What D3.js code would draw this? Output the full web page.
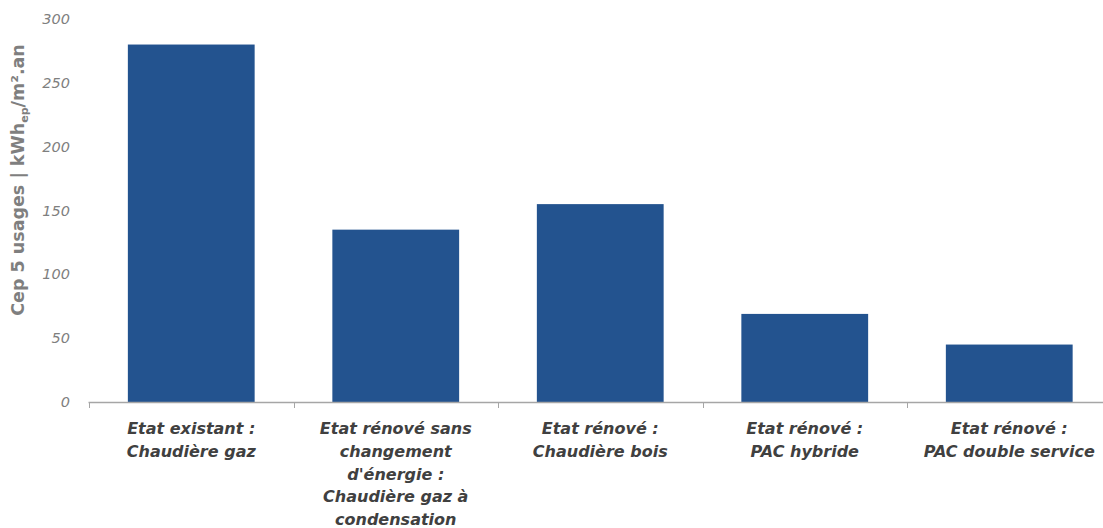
<!DOCTYPE html>
<html>
<head>
<meta charset="utf-8">
<script src="https://cdn.jsdelivr.net/npm/d3@7"></script>
<style>
  html, body { margin: 0; padding: 0; background: #fff; }
  svg { display: block; }
</style>
</head>
<body>
<svg id="chart" width="1103" height="528"></svg>
<script>
const categories = [
  "Etat existant :\nChaudière gaz",
  "Etat rénové sans\nchangement\nd'énergie :\nChaudière gaz à\ncondensation",
  "Etat rénové :\nChaudière bois",
  "Etat rénové :\nPAC hybride",
  "Etat rénové :\nPAC double service"
];
const values = [280, 135, 155, 69, 45];
const yTicks = [0, 50, 100, 150, 200, 250, 300];

const svg = d3.select("#chart");
const FONT = "'DejaVu Sans', sans-serif";

const x = d3.scaleBand().domain(categories).range([89, 1111.5]).padding(0);
const y = d3.scaleLinear().domain([0, 300]).range([402, 19]);

const bw = x.bandwidth();
svg.selectAll("rect.bar")
  .data(values)
  .enter().append("rect")
  .attr("class", "bar")
  .attr("x", (d, i) => x(categories[i]) + bw * 0.19)
  .attr("width", bw * 0.62)
  .attr("y", d => y(d))
  .attr("height", d => y(0) - y(d))
  .attr("fill", "#23538F");

// x axis
const xAxis = svg.append("g");
xAxis.append("line")
  .attr("x1", 88.5).attr("x2", 1103)
  .attr("y1", 402.5).attr("y2", 402.5)
  .attr("stroke", "#a6a6a6").attr("stroke-width", 1.3);
xAxis.selectAll("line.tick")
  .data(categories)
  .enter().append("line")
  .attr("class", "tick")
  .attr("x1", d => Math.round(x(d)) + 0.5)
  .attr("x2", d => Math.round(x(d)) + 0.5)
  .attr("y1", 402).attr("y2", 408)
  .attr("stroke", "#a6a6a6").attr("stroke-width", 1);

const labels = xAxis.selectAll("text.cat")
  .data(categories)
  .enter().append("text")
  .attr("class", "cat")
  .attr("text-anchor", "middle")
  .attr("font-family", FONT)
  .attr("font-size", 16)
  .attr("font-weight", "bold")
  .attr("font-style", "italic")
  .attr("fill", "#404040");
labels.each(function(d) {
  const t = d3.select(this);
  const cx = x(d) + bw / 2;
  d.split("\n").forEach((line, i) => {
    t.append("tspan")
      .attr("x", cx)
      .attr("y", 434 + i * 22.8)
      .text(line);
  });
});

// y tick labels
svg.append("g").selectAll("text")
  .data(yTicks)
  .enter().append("text")
  .attr("x", 70)
  .attr("y", d => y(d))
  .attr("dy", "0.35em")
  .attr("text-anchor", "end")
  .attr("font-family", FONT)
  .attr("font-size", 14.5)
  .attr("font-style", "italic")
  .attr("fill", "#7f7f7f")
  .text(d => d);

// y title
const yt = svg.append("text")
  .attr("transform", "translate(24,180) rotate(-90)")
  .attr("text-anchor", "middle")
  .attr("font-family", FONT)
  .attr("font-size", 17.5)
  .attr("font-weight", "bold")
  .attr("fill", "#7f7f7f");
yt.append("tspan").text("Cep 5 usages | kWh");
yt.append("tspan").attr("font-size", 11).attr("dy", 4).text("ep");
yt.append("tspan").attr("dy", -4).text("/m².an");
</script>
</body>
</html>
